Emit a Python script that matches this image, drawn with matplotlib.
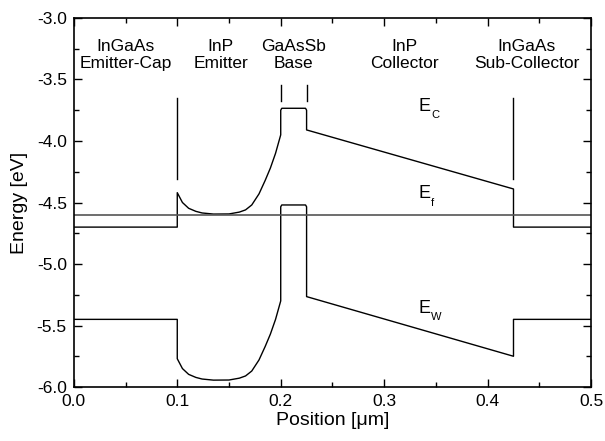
import numpy as np
import matplotlib.pyplot as plt
from matplotlib.ticker import MultipleLocator

plt.rcParams['font.family'] = ['Liberation Sans', 'DejaVu Sans']

''' Data read from the band diagram '''
# Conduction band edge
x_ec = [0.0, 0.1, 0.1, 0.105, 0.111, 0.118, 0.124, 0.135, 0.150, 0.160, 0.166,
        0.172, 0.179, 0.185, 0.190, 0.195, 0.2, 0.2, 0.201, 0.224, 0.225, 0.225,
        0.425, 0.425, 0.5]
ec = [-4.70, -4.70, -4.42, -4.50, -4.547, -4.572, -4.585, -4.594, -4.593, -4.578,
      -4.56, -4.52, -4.43, -4.32, -4.22, -4.10, -3.95, -3.75, -3.734, -3.734,
      -3.75, -3.91, -4.39, -4.70, -4.70]

# Valence band edge
x_ew = [0.0, 0.1, 0.1, 0.105, 0.111, 0.118, 0.124, 0.135, 0.150, 0.160, 0.166,
        0.172, 0.179, 0.185, 0.190, 0.195, 0.2, 0.2, 0.201, 0.224, 0.225, 0.225,
        0.425, 0.425, 0.5]
ew = [-5.45, -5.45, -5.77, -5.85, -5.897, -5.922, -5.935, -5.944, -5.943, -5.928,
      -5.91, -5.87, -5.78, -5.67, -5.57, -5.45, -5.30, -4.535, -4.52, -4.52,
      -4.535, -5.265, -5.75, -5.45, -5.45]

# Fermi level
x_ef = [0.0, 0.5]
ef = [-4.60, -4.60]

# Region boundary markers (x, y bottom, y top)
bound_x = [0.1, 0.2, 0.225, 0.425]
bound_lo = [-4.31, -3.675, -3.675, -4.31]
bound_hi = [-3.65, -3.545, -3.545, -3.65]

# Region names
region_x = [0.05, 0.142, 0.2125, 0.32, 0.438]
region_txt = ["InGaAs\nEmitter-Cap", "InP\nEmitter", "GaAsSb\nBase",
              "InP\nCollector", "InGaAs\nSub-Collector"]

# Band labels
band_y = [-3.72, -4.43, -5.36]
band_sub = ["C", "f", "W"]

''' Plot '''
fig = plt.figure(figsize=(6.05, 4.41), dpi=100)
ax = fig.add_axes([0.122, 0.1224, 0.855, 0.8368])

ax.plot(x_ec, ec, color="black", linewidth=1.0)
ax.plot(x_ew, ew, color="black", linewidth=1.0)
ax.plot(x_ef, ef, color="#555555", linewidth=1.2)
for bx, lo, hi in zip(bound_x, bound_lo, bound_hi):
    ax.plot([bx, bx], [lo, hi], color="black", linewidth=1.0)

for rx, t in zip(region_x, region_txt):
    ax.text(rx, -3.30, t, ha="center", va="center", fontsize=12.5, linespacing=1.15)

# E labels with small, low subscripts
for by, sub in zip(band_y, band_sub):
    ax.text(0.345, by, "E", ha="right", va="center", fontsize=13)
    ax.text(0.3455, by - 0.07, sub, ha="left", va="center", fontsize=8)

# Axes
ax.set_xlim(0, 0.5)
ax.set_ylim(-6.0, -3.0)
ax.xaxis.set_major_locator(MultipleLocator(0.1))
ax.xaxis.set_minor_locator(MultipleLocator(0.05))
ax.yaxis.set_major_locator(MultipleLocator(0.5))
ax.yaxis.set_minor_locator(MultipleLocator(0.25))
ax.xaxis.set_major_formatter(plt.FuncFormatter(lambda v, p: "{:.1f}".format(v)))
ax.yaxis.set_major_formatter(plt.FuncFormatter(lambda v, p: "{:.1f}".format(v)))
ax.tick_params(which="both", direction="in", top=True, right=True, labelsize=12.5, width=1.0)
ax.tick_params(which="major", length=6, pad=5)
ax.tick_params(which="minor", length=3.5)
for s in ax.spines.values():
    s.set_linewidth(1.2)
ax.set_xlabel("Position [\u03bcm]", fontsize=14, labelpad=2)
ax.set_ylabel("Energy [eV]", fontsize=14, labelpad=6)

plt.savefig("out.png", dpi=100)
